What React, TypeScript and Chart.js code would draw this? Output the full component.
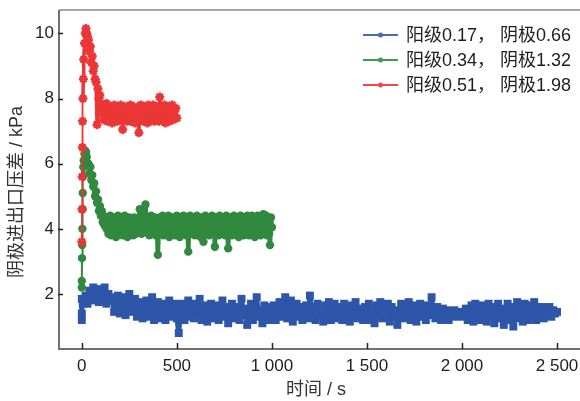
import React, { useEffect, useRef } from "react";
import { Chart, registerables } from "chart.js";

Chart.register(...registerables);

// ---- data ----
const seriesLabels = ["阳级0.17， 阴极0.66", "阳级0.34， 阴极1.32", "阳级0.51， 阴极1.98"];
const xTickValues = [0, 500, 1000, 1500, 2000, 2500];
const yTickValues = [2, 4, 6, 8, 10];

// blue: first seconds, then sampled every 10 s from t = 10
const blueStartTimes = [0, 0, 0, 5];
const blueStartKPa = [1.2, 1.4, 1.85, 1.7];
const BLUE_T0 = 10;
const BLUE_DT = 10;
const blueKPa = [
  1.75, 1.95, 1.7, 2.1, 1.85, 2.2, 1.8, 2.15, 1.75, 2.05, 1.9, 2.2, 1.7, 2.0, 1.8,
  1.9, 1.45, 1.75, 1.95, 1.4, 1.65, 1.9, 1.35, 1.8, 2.0, 1.45, 1.7, 1.85, 1.3, 1.6,
  1.75, 1.25, 1.5, 1.8, 1.3, 1.65, 1.9, 1.2, 1.55, 1.75, 1.25, 1.45, 1.7, 1.2, 1.6, 1.8, 1.3, 1.5, 1.7, 1.25,
  0.8,
  1.55, 1.7, 1.2, 1.45, 1.8, 1.3, 1.6, 1.25, 1.7, 1.4,
  1.85, 1.2, 1.5, 1.65, 1.15, 1.4, 1.7, 1.25, 1.55, 1.65,
  1.2, 1.45, 1.8, 1.3, 1.6, 1.1, 1.5, 1.7, 1.25, 1.45,
  1.6, 1.2, 1.85, 1.35, 1.55, 1.05, 1.45, 1.7, 1.2, 1.6,
  1.9, 1.3, 1.5, 1.1, 1.65, 1.4, 1.2, 1.6, 1.35,
  1.65, 1.2, 1.5, 1.75, 1.3, 1.6, 1.9, 1.25, 1.55, 1.8,
  1.15, 1.45, 1.7, 1.3, 1.6, 1.2, 1.5, 1.65, 1.25, 1.95,
  1.4, 1.6, 1.2, 1.7, 1.35, 1.5, 1.15, 1.65, 1.3, 1.75,
  1.2, 1.55, 1.7, 1.25, 1.45, 1.6, 1.2, 1.7, 1.35, 1.5,
  1.15, 1.65, 1.3, 1.75, 1.25, 1.55, 1.4, 1.2, 1.6, 1.35,
  1.7, 1.2, 1.5, 1.1, 1.65, 1.35, 1.75, 1.25, 1.55, 1.4,
  1.7, 1.15, 1.6, 1.3, 1.5, 1.05, 1.45, 1.7, 1.25, 1.6,
  1.35, 1.75, 1.2, 1.5, 1.65, 1.15, 1.4, 1.7, 1.3, 1.55,
  1.2, 1.65, 1.35, 1.9, 1.5, 1.25, 1.6, 1.4, 1.2, 1.55,
  1.3, 1.5, 1.2, 1.45, 1.35, 1.5, 1.3, 1.45, 1.35, 1.4,
  1.3, 1.55, 1.2, 1.45, 1.65, 1.15, 1.7, 1.3, 1.55, 1.2,
  1.65, 1.4, 1.15, 1.7, 1.3, 1.6, 1.1, 1.5, 1.7, 1.25,
  1.55, 1.05, 1.45, 1.7, 1.2, 1.6, 1.0, 1.5, 1.75, 1.25,
  1.6, 1.15, 1.7, 1.35, 1.2, 1.65, 1.3, 1.75, 1.2, 1.55,
  1.3, 1.6, 1.25, 1.55, 1.35, 1.6, 1.3, 1.5, 1.4, 1.45,
];

// green: first seconds, then every 5 s from t = 35
const greenStartTimes = [0, 0, 1, 2, 3, 4, 5, 6, 8, 10, 14, 18, 22, 26, 30];
const greenStartKPa = [2.2, 2.4, 3.1, 3.5, 4.0, 4.6, 5.1, 5.6, 5.9, 6.1, 6.3, 6.4, 6.35, 6.2, 6.0];
const GREEN_T0 = 35;
const GREEN_DT = 5;
const greenKPa = [
  6.0, 5.7, 5.9, 5.5, 5.65, 5.3, 5.4, 5.0, 5.15, 4.8, 4.9, 4.55, 4.7, 4.4, 4.55, 4.2, 4.4, 4.1, 4.3, 4.0,
  4.35, 3.85, 4.15, 4.4, 3.8, 4.05, 4.35, 3.9, 4.2, 3.75,
  4.1, 4.4, 3.85, 4.2, 4.0, 4.35, 3.8, 4.15, 4.4, 3.9,
  4.2, 3.75, 4.05, 4.35, 3.85, 4.3, 4.0, 3.8, 4.35, 4.1,
  3.85, 4.3, 4.0, 4.35, 4.6, 4.15, 3.85, 4.35, 4.5, 4.0,
  4.75, 4.2, 3.9, 4.35, 3.8, 4.1, 4.4, 3.85, 4.2, 4.0,
  4.35, 3.8, 4.1, 3.2, 4.0, 4.35, 3.85, 4.2, 4.4, 3.8,
  4.15, 4.35, 3.85, 4.05, 4.4, 3.75, 4.2, 4.0, 4.35, 3.85,
  4.3, 3.8, 4.1, 4.4, 3.9, 4.2, 3.75, 4.35, 4.05, 3.85,
  4.4, 4.0, 4.2, 3.8, 4.35, 3.3, 4.1, 4.4, 3.85, 4.2,
  3.9, 4.35, 3.8, 4.15, 4.4, 3.85, 4.3, 4.0, 3.75, 4.35,
  4.1, 3.6, 4.2, 4.4, 3.85, 4.05, 4.35, 3.8, 4.2, 4.0,
  4.4, 3.85, 4.15, 3.45, 4.35, 3.9, 4.2, 3.8, 4.4, 4.05,
  3.85, 4.35, 4.0, 4.3, 3.8, 4.4, 4.1, 3.4, 4.2, 3.9,
  4.35, 3.8, 4.15, 4.4, 3.85, 4.2, 4.0, 4.35, 3.75, 4.1,
  4.4, 3.9, 4.2, 3.8, 4.35, 4.05, 3.85, 4.4, 4.1, 3.8,
  4.3, 4.0, 4.4, 3.85, 4.15, 3.75, 4.35, 4.05, 4.4, 3.85,
  4.2, 3.8, 4.35, 4.0, 4.45, 3.85, 4.15, 4.4, 3.8, 4.3,
  3.85, 3.5, 4.35, 4.05,
];

// red: first seconds, then every 5 s from t = 35
const redStartTimes = [0, 1, 2, 3, 4, 6, 8, 10, 14, 18, 22, 26, 30];
const redStartKPa = [3.6, 4.6, 5.6, 6.5, 7.3, 8.0, 8.6, 9.2, 9.7, 10.0, 10.15, 10.0, 9.9];
const RED_T0 = 35;
const RED_DT = 5;
const redKPa = [
  9.8, 9.45, 9.6, 9.1, 9.3, 8.85, 9.0, 8.6, 8.5, 7.2, 8.3, 8.0, 8.1, 7.8,
  7.55, 7.8, 7.35, 7.65, 7.45, 7.85, 7.3, 7.6, 7.75, 7.4,
  7.7, 7.25, 7.55, 7.8, 7.4, 7.65, 7.3, 7.75, 7.5, 7.35,
  7.8, 7.45, 7.05, 7.65, 7.35, 7.75, 7.5, 7.3, 7.7, 7.45,
  7.8, 7.3, 7.6, 7.4, 7.75, 7.25, 7.55, 7.7, 7.35, 6.95,
  7.6, 7.8, 7.4, 7.55, 7.3, 7.75, 7.45, 7.65, 7.25, 7.8,
  7.5, 7.35, 7.7, 7.45, 7.8, 7.3, 7.6, 7.4, 7.75, 7.5,
  7.3, 8.05, 7.55, 7.35, 7.7, 7.45, 7.8, 7.25, 7.6, 7.4,
  7.75, 7.3, 7.65, 7.5, 7.8, 7.35, 7.6, 7.45, 7.7, 7.4,
];

const yTitle = "阴极进出口压差 / kPa";
const xTitle = "时间 / s";

// ---- helpers ----
function buildPoints(startT: number[], startV: number[], t0: number, dt: number, vals: number[]) {
  const pts = startT.map((t, i) => ({ x: t, y: startV[i] }));
  vals.forEach((v, i) => pts.push({ x: t0 + i * dt, y: v }));
  return pts;
}

// thin line for the steep start-up rise, thick for the noisy band
const thinStart = (n: number, thin: number) => (c: any) => (c.p0DataIndex < n ? thin : undefined);

const FONT = "'Liberation Sans', Arial, 'Noto Sans CJK SC', sans-serif";
const TEXT = "#1e1e1e";
const AXIS = "#707070";

const legendColors = ["#4a68c0", "#3f9c4a", "#f0484a"];

const decorPlugin = {
  id: "decor",
  afterDraw(chart: any) {
    const ctx = chart.ctx;
    const area = chart.chartArea;
    const xs = chart.scales.x;
    const ys = chart.scales.y;
    ctx.save();
    // top border
    ctx.strokeStyle = "#8a8a8a";
    ctx.lineWidth = 1.5;
    ctx.beginPath();
    ctx.moveTo(area.left, area.top);
    ctx.lineTo(chart.width, area.top);
    ctx.stroke();
    // axes
    ctx.strokeStyle = AXIS;
    ctx.lineWidth = 2;
    ctx.beginPath();
    ctx.moveTo(area.left, area.top);
    ctx.lineTo(area.left, area.bottom);
    ctx.lineTo(chart.width, area.bottom);
    ctx.stroke();
    // inside ticks
    ctx.strokeStyle = "#222";
    ctx.lineWidth = 1.5;
    ctx.beginPath();
    xTickValues.forEach((v) => {
      const px = Math.round(xs.getPixelForValue(v)) + 0.5;
      ctx.moveTo(px, area.bottom);
      ctx.lineTo(px, area.bottom - 6);
    });
    yTickValues.forEach((v) => {
      const py = Math.round(ys.getPixelForValue(v)) + 0.5;
      ctx.moveTo(area.left - 1, py);
      ctx.lineTo(area.left + 4, py);
    });
    ctx.stroke();
    // y title
    ctx.fillStyle = "#333";
    ctx.font = `18px ${FONT}`;
    ctx.textAlign = "center";
    ctx.textBaseline = "middle";
    ctx.translate(17, 192);
    ctx.rotate(-Math.PI / 2);
    ctx.fillText(yTitle, 0, 0);
    ctx.restore();

    // legend
    ctx.save();
    ctx.font = `18px ${FONT}`;
    ctx.textAlign = "left";
    ctx.textBaseline = "middle";
    const rows = [35, 60, 85];
    seriesLabels.forEach((label, i) => {
      const y = rows[i];
      ctx.strokeStyle = legendColors[i];
      ctx.lineWidth = 2;
      ctx.beginPath();
      ctx.moveTo(363, y);
      ctx.lineTo(398, y);
      ctx.stroke();
      ctx.fillStyle = legendColors[i];
      ctx.beginPath();
      ctx.arc(380.5, y, 2.5, 0, Math.PI * 2);
      ctx.fill();
      ctx.fillStyle = TEXT;
      ctx.fillText(label, 406, y + 1);
    });
    ctx.restore();
  },
};

export default function App() {
  const ref = useRef<HTMLCanvasElement | null>(null);

  useEffect(() => {
    document.body.style.margin = "0";
    const canvas = ref.current!;
    const chart = new Chart(canvas, {
      type: "scatter",
      data: {
        datasets: [
          {
            label: seriesLabels[2],
            data: buildPoints(redStartTimes, redStartKPa, RED_T0, RED_DT, redKPa),
            showLine: true,
            borderColor: "#ea3636",
            backgroundColor: "#ea3636",
            borderWidth: 3.5,
            borderJoinStyle: "round",
            segment: { borderWidth: thinStart(5, 1.8) },
            pointStyle: "star",
            pointRadius: 4.5,
            pointBorderWidth: 2.5,
            pointBorderColor: "#ea3636",
          },
          {
            label: seriesLabels[1],
            data: buildPoints(greenStartTimes, greenStartKPa, GREEN_T0, GREEN_DT, greenKPa),
            showLine: true,
            borderColor: "#31883f",
            backgroundColor: "#31883f",
            borderWidth: 4.5,
            borderJoinStyle: "round",
            segment: { borderWidth: thinStart(7, 2) },
            pointStyle: "circle",
            pointRadius: 4.2,
            pointBorderWidth: 0,
          },
          {
            label: seriesLabels[0],
            data: buildPoints(blueStartTimes, blueStartKPa, BLUE_T0, BLUE_DT, blueKPa),
            showLine: true,
            borderColor: "#2d55a8",
            backgroundColor: "#2d55a8",
            borderWidth: 5,
            borderJoinStyle: "round",
            pointStyle: "rect",
            pointRadius: 5.6,
            pointBorderWidth: 0,
          },
        ],
      },
      options: {
        animation: false,
        responsive: false,
        maintainAspectRatio: false,
        layout: { padding: { top: 10, right: 5, left: 0, bottom: 0 } },
        plugins: { legend: { display: false }, tooltip: { enabled: false } },
        scales: {
          x: {
            type: "linear",
            min: -120,
            max: 2584,
            afterFit: (s: any) => {
              s.height = 52;
              s.paddingLeft = 0;
              s.paddingRight = 0;
            },
            afterBuildTicks: (s: any) => {
              s.ticks = xTickValues.map((v) => ({ value: v }));
            },
            grid: { display: false, drawTicks: false },
            border: { display: false },
            ticks: {
              color: TEXT,
              font: { family: FONT, size: 17 },
              padding: 7,
              maxRotation: 0,
              autoSkip: false,
              callback: (v: any) => String(v).replace(/\B(?=(\d{3})+(?!\d))/g, " "),
            },
            title: {
              display: true,
              text: xTitle,
              color: "#333",
              font: { family: FONT, size: 18 },
              padding: { top: 0, bottom: 0 },
            },
          },
          y: {
            type: "linear",
            min: 0.31,
            max: 10.72,
            afterFit: (s: any) => {
              s.width = 59;
              s.paddingTop = 0;
              s.paddingBottom = 0;
            },
            afterBuildTicks: (s: any) => {
              s.ticks = yTickValues.map((v) => ({ value: v }));
            },
            grid: { display: false, drawTicks: false },
            border: { display: false },
            ticks: {
              color: TEXT,
              font: { family: FONT, size: 17 },
              padding: 5,
            },
          },
        },
      },
      plugins: [decorPlugin],
    });
    return () => chart.destroy();
  }, []);

  return (
    <div style={{ position: "absolute", left: 0, top: 0, width: 580, height: 401, background: "#fff" }}>
      <canvas ref={ref} width={580} height={401} style={{ width: 580, height: 401, display: "block" }} />
    </div>
  );
}
